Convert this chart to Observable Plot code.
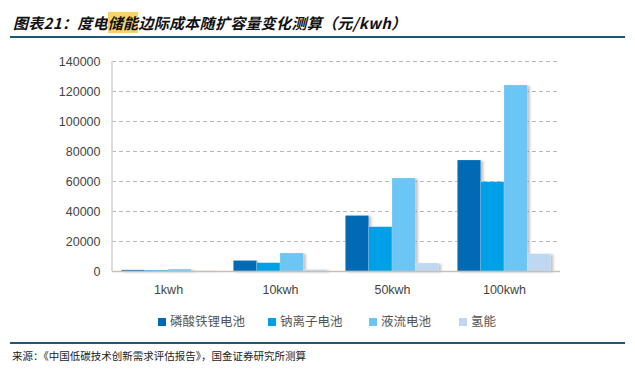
<!DOCTYPE html>
<html><head><meta charset="utf-8">
<script src="https://cdn.jsdelivr.net/npm/d3@7"></script>
<script src="https://cdn.jsdelivr.net/npm/@observablehq/plot@0.6"></script>
<style>
body{margin:0;background:#fff;font-family:"Noto Sans CJK SC",sans-serif;}
#wrap{position:relative;width:635px;height:369px;overflow:hidden;}
#title{position:absolute;left:13px;top:12px;font-size:15px;font-weight:bold;font-style:italic;color:#111;letter-spacing:0.3px;white-space:nowrap;}
#title .hl{background:#F8D26A;}
#topline{position:absolute;left:10px;top:36px;width:615px;height:2px;background:#1F5878;}
#chart{position:absolute;left:0;top:40px;}
#legend{position:absolute;top:311px;left:0;width:635px;font-size:12.5px;color:#555;}
#legend .it{position:absolute;white-space:nowrap;}
#legend .sw{display:inline-block;width:8px;height:8px;margin-right:4px;vertical-align:0px;}
#botline{position:absolute;left:10px;top:342px;width:615px;height:1.5px;background:#1F5878;}
#source{position:absolute;left:12px;top:348px;font-size:10.5px;color:#222;white-space:nowrap;}
</style></head>
<body><div id="wrap">
<div id="title">图表21：度电<span class="hl">储能</span>边际成本随扩容量变化测算（元/kwh）</div>
<div id="topline"></div>
<div id="chart"></div>
<div id="legend"></div>
<div id="botline"></div>
<div id="source">来源：《中国低碳技术创新需求评估报告》，国金证券研究所测算</div>
</div>
<script>
const categories = ["1kwh", "10kwh", "50kwh", "100kwh"];
const seriesNames = ["磷酸铁锂电池", "钠离子电池", "液流电池", "氢能"];
const lfp = [740, 7000, 37000, 74000];
const sodium = [600, 5500, 29500, 59500];
const flow = [1240, 12000, 62000, 124000];
const hydrogen = [115, 900, 5300, 11500];
const yTicks = [0, 20000, 40000, 60000, 80000, 100000, 120000, 140000];
const colors = ["#006AB4", "#00A0E8", "#6CC6F5", "#BDD8F0"];

const seriesValues = [lfp, sodium, flow, hydrogen];
const W = 635, mL = 112, mR = 75;
const band = (W - mL - mR) / categories.length;
const gap = band * 0.0835, barW = (band - 2 * gap) / seriesNames.length;

const barMarks = seriesNames.map((name, j) => Plot.barY(
  categories.map((c, i) => ({cat: c, series: name, value: seriesValues[j][i]})),
  {x: "cat", y: "value", fill: colors[j], stroke: "#ffffff", strokeOpacity: 0.35, strokeWidth: 0.5,
   insetLeft: gap + barW * j, insetRight: band - gap - barW * (j + 1)}
));
const gridRows = yTicks.filter(t => t > 0).map(t => ({v: t}));

const svg = Plot.plot({
  width: W, height: 270,
  marginTop: 21, marginBottom: 39, marginLeft: mL, marginRight: mR,
  style: {fontFamily: "Liberation Sans, Arial, sans-serif", fontSize: "12.5px", color: "#444"},
  x: {domain: categories, padding: 0, label: null, tickSize: 0, tickPadding: 14},
  y: {domain: [0, 140000], ticks: yTicks, tickFormat: d => String(d), label: null, tickSize: 0, tickPadding: 12},
  marks: [
    Plot.ruleY(gridRows, {y: "v", stroke: "#b8b8b8", strokeWidth: 1, strokeDasharray: "4,3"}),
    ...barMarks,
    Plot.ruleY([0], {stroke: "#c9bfb2", strokeWidth: 1.5})
  ]
});

const s = d3.select(svg);
const defs = s.insert("defs", ":first-child");
const f = defs.append("filter").attr("id", "shd").attr("x", "-20%").attr("y", "-20%").attr("width", "150%").attr("height", "140%");
f.append("feDropShadow").attr("dx", 2.5).attr("dy", 1).attr("stdDeviation", 1).attr("flood-color", "#666").attr("flood-opacity", 0.4);
s.selectAll("g[aria-label='bar']").attr("filter", "url(#shd)");
const yS = svg.scale("y");
s.append("line").attr("x1", mL).attr("x2", mL).attr("y1", yS.range[1]).attr("y2", yS.range[0]).attr("stroke", "#d0d0d0").attr("stroke-width", 1.5);
document.getElementById("chart").appendChild(svg);

const lx = [158, 268, 369, 459];
const lg = document.getElementById("legend");
seriesNames.forEach((n, i) => {
  const d = document.createElement("div");
  d.className = "it"; d.style.left = lx[i] + "px";
  d.innerHTML = `<span class="sw" style="background:${colors[i]}"></span>${n}`;
  lg.appendChild(d);
});
</script>
</body></html>
